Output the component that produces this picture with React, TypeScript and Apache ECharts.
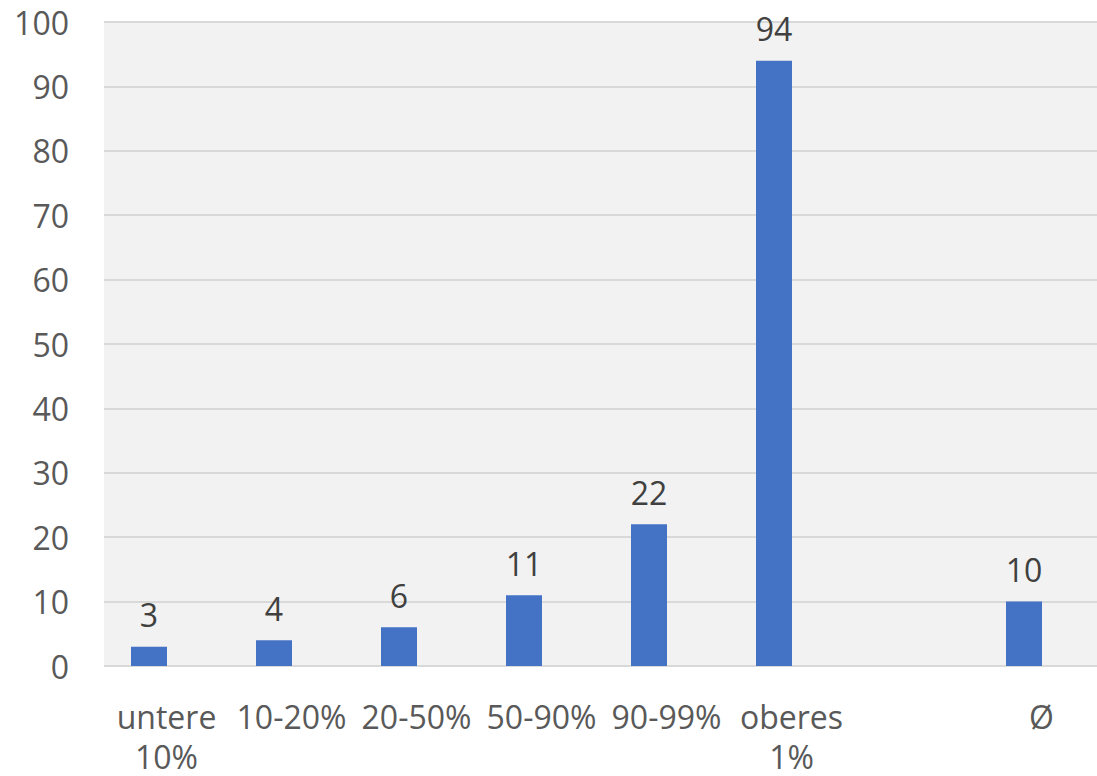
import React, { useEffect, useRef } from "react";
import * as echarts from "echarts";

const categories = ["untere\n10%", "10-20%", "20-50%", "50-90%", "90-99%", "oberes\n1%", "", "Ø"];
const values: (number | null)[] = [3, 4, 6, 11, 22, 94, null, 10];
const yMin = 0;
const yMax = 100;
const yInterval = 10;

export default function App() {
  const ref = useRef<HTMLDivElement>(null);
  useEffect(() => {
    if (!ref.current) return;
    const chart = echarts.init(ref.current, null, { renderer: "svg" });
    const font = "'Open Sans', sans-serif";
    chart.setOption({
      animation: false,
      backgroundColor: "#FFFFFF",
      grid: [
        {
          left: 104,
          width: 1000,
          top: 22,
          bottom: 110,
          show: true,
          backgroundColor: "#F2F2F2",
          borderWidth: 0,
          outerBoundsMode: "none",
          containLabel: false,
        },
        {
          left: 86.5,
          width: 1000,
          top: 22,
          bottom: 110,
          outerBoundsMode: "none",
          containLabel: false,
        },
      ],
      xAxis: [
        {
          type: "category",
          gridIndex: 0,
          data: categories,
          axisLine: { show: false },
          axisTick: { show: false },
          axisLabel: {
            interval: 0,
            fontSize: 32,
            fontFamily: font,
            color: "#595959",
            lineHeight: 40,
            margin: 30,
          },
        },
        {
          type: "category",
          gridIndex: 1,
          data: categories,
          show: false,
        },
      ],
      yAxis: [
        {
          type: "value",
          gridIndex: 0,
          min: yMin,
          max: yMax,
          interval: yInterval,
          axisLine: { show: false },
          axisTick: { show: false },
          axisLabel: {
            fontSize: 32,
            fontFamily: font,
            color: "#595959",
            margin: 35,
          },
          splitLine: { show: true, lineStyle: { color: "#D9D9D9", width: 2 } },
        },
        {
          type: "value",
          gridIndex: 1,
          min: yMin,
          max: yMax,
          interval: yInterval,
          show: false,
          splitLine: { show: false },
        },
      ],
      series: [
        {
          type: "bar",
          xAxisIndex: 1,
          yAxisIndex: 1,
          data: values,
          barWidth: 36,
          itemStyle: { color: "#4472C4" },
          label: {
            show: true,
            position: "top",
            distance: 12,
            fontSize: 32,
            lineHeight: 40,
            fontFamily: font,
            color: "#404040",
          },
        },
      ],
    });
    return () => chart.dispose();
  }, []);
  return (
    <div
      ref={ref}
      style={{ position: "fixed", left: 0, top: 0, width: 1097, height: 776, background: "#fff" }}
    />
  );
}
